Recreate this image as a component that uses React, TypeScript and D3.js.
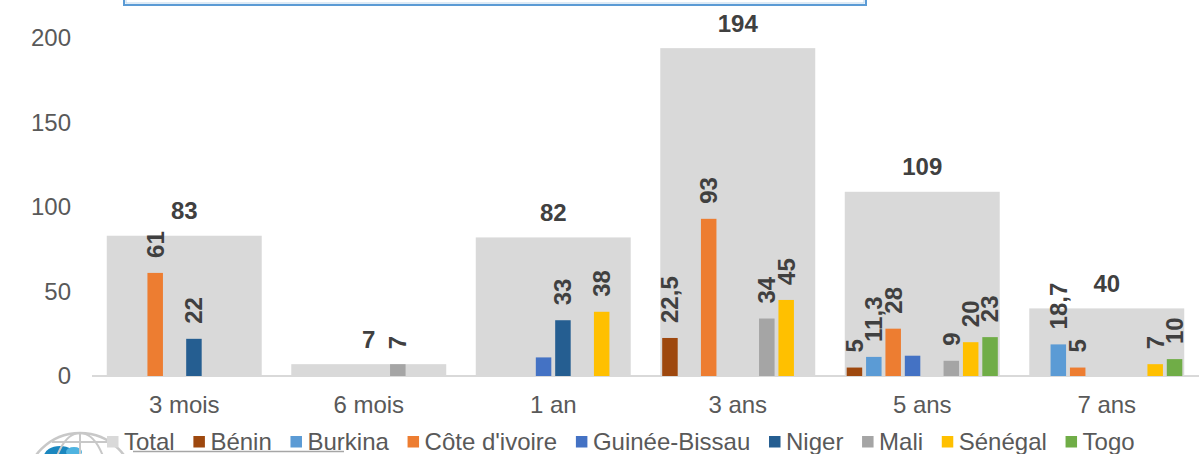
import React, { useEffect, useMemo } from 'react';
import * as d3 from 'd3';

const categories = ['3 mois', '6 mois', '1 an', '3 ans', '5 ans', '7 ans'];
const totals = [83, 7, 82, 194, 109, 40];

const seriesNames = ['Bénin', 'Burkina', "Côte d'ivoire", 'Guinée-Bissau', 'Niger', 'Mali', 'Sénégal', 'Togo'];
const benin = [null, null, null, 22.5, 5, null];
const burkina = [null, null, null, null, 11.3, 18.7];
const coteIvoire = [61, null, null, 93, 28, 5];
const guineeBissau = [null, null, 11, null, 12, null];
const niger = [22, null, 33, null, null, null];
const mali = [null, 7, null, 34, 9, null];
const senegal = [null, null, 38, 45, 20, 7];
const togo = [null, null, null, null, 23, 10];
const seriesValues: (number | null)[][] = [benin, burkina, coteIvoire, guineeBissau, niger, mali, senegal, togo];
// Guinée-Bissau has no data labels in the original
const showLabels = [true, true, true, false, true, true, true, true];

const seriesColors = ['#9E480E', '#5B9BD5', '#ED7D31', '#4472C4', '#255E91', '#A5A5A5', '#FFC000', '#70AD47'];
const totalColor = '#D9D9D9';
const yTicks = [0, 50, 100, 150, 200];

const W = 1202;
const H = 454;
const FONT = '"Liberation Sans", Arial, sans-serif';

const fmt = (v: number) => String(v).replace('.', ',');

const App = () => {
  useEffect(() => {
    document.body.style.margin = '0';
  }, []);

  const x0 = d3.scaleBand<string>().domain(categories).range([92, 1199]).paddingInner(0.16).paddingOuter(0.08);
  const x1 = d3.scaleBand<number>().domain(d3.range(seriesNames.length)).range([0, x0.bandwidth()]).paddingInner(0.2).paddingOuter(0.1);
  const y = d3.scaleLinear().domain([0, 200]).range([376, 38]);

  const legend = useMemo(() => {
    const ctx = document.createElement('canvas').getContext('2d')!;
    ctx.font = `24px ${FONT}`;
    const names = ['Total', ...seriesNames];
    const colors = [totalColor, ...seriesColors];
    let pos = 107;
    return names.map((n, i) => {
      const item = { name: n, color: colors[i], x: pos };
      pos += 17 + ctx.measureText(n).width + 18.7;
      return item;
    });
  }, []);

  return (
    <div style={{ position: 'absolute', left: 0, top: 0 }}>
      <svg width={W} height={H} style={{ display: 'block', background: '#fff' }} fontFamily={FONT}>
        {/* cut-off title box */}
        <rect x={124} y={-20} width={742} height={25} fill="none" stroke="#5B9BD5" strokeWidth={2} />
        <rect x={126} y={-20} width={738} height={23} fill="none" stroke="#BDD7EE" strokeWidth={1} />

        {yTicks.map((t) => (
          <text key={t} x={71} y={y(t)} dy="0.35em" textAnchor="end" fontSize={24} fill="#595959">{t}</text>
        ))}

        {categories.map((c, i) => (
          <g key={c}>
            <rect x={x0(c)} y={y(totals[i])} width={x0.bandwidth()} height={y(0) - y(totals[i])} fill={totalColor} />
          </g>
        ))}

        <line x1={92} x2={1199} y1={y(0)} y2={y(0)} stroke="#D9D9D9" strokeWidth={2} />

        {categories.map((c, i) => (
          <g key={c}>
            {seriesValues.map((vals, s) => {
              const v = vals[i];
              if (v == null) return null;
              return (
                <rect key={s} x={(x0(c) as number) + (x1(s) as number)} y={y(v)} width={x1.bandwidth()} height={y(0) - y(v)} fill={seriesColors[s]} />
              );
            })}
            <text x={(x0(c) as number) + x0.bandwidth() / 2} y={y(totals[i]) - 16.5} textAnchor="middle" fontSize={24} fontWeight="bold" fill="#404040">{totals[i]}</text>
            {seriesValues.map((vals, s) => {
              const v = vals[i];
              if (v == null || !showLabels[s]) return null;
              const cx = (x0(c) as number) + (x1(s) as number) + x1.bandwidth() / 2;
              return (
                <text key={s} transform={`translate(${cx},${y(v) - 15}) rotate(-90)`} dy="0.35em" textAnchor="start" fontSize={24} fontWeight="bold" fill="#404040">{fmt(v)}</text>
              );
            })}
            <text x={(x0(c) as number) + x0.bandwidth() / 2} y={413} textAnchor="middle" fontSize={24} fill="#595959">{c}</text>
          </g>
        ))}

        {/* logo in the corner */}
        <g>
          <ellipse cx={60} cy={456} rx={16} ry={10} fill="#1B87BF" />
          <ellipse cx={74} cy={452} rx={8} ry={5} fill="#4FB3E0" />
          <circle cx={80} cy={487.5} r={54.5} fill="none" stroke="#C8C8C8" strokeWidth={2.5} />
          <ellipse cx={80} cy={487.5} rx={28} ry={54.5} fill="none" stroke="#C8C8C8" strokeWidth={2} />
          <line x1={80} x2={80} y1={433} y2={454} stroke="#C8C8C8" strokeWidth={2} />
          <line x1={52} x2={108} y1={442} y2={442} stroke="#C8C8C8" strokeWidth={2} />
        </g>
        <line x1={133} x2={344} y1={451.5} y2={451.5} stroke="#A6A6A6" strokeWidth={1.5} />

        {legend.map((l) => (
          <g key={l.name}>
            <rect x={l.x} y={436} width={11.5} height={11.5} fill={l.color} />
            <text x={l.x + 17} y={450} fontSize={24} fill="#595959">{l.name}</text>
          </g>
        ))}
      </svg>
    </div>
  );
};

export default App;
